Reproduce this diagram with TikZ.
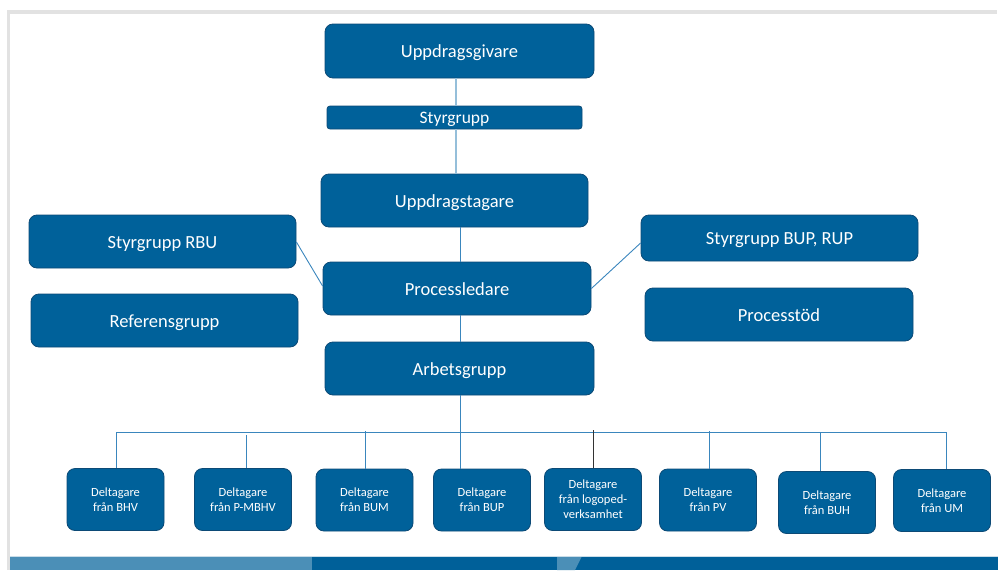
\documentclass[tikz,border=0pt]{standalone}
\usepackage{fontspec}
\usetikzlibrary{calc}
\setmainfont{Carlito}
\definecolor{boxblue}{HTML}{00619A}
\definecolor{boxedge}{HTML}{0C4A76}
\definecolor{linkblue}{HTML}{3A86BD}
\definecolor{linklight}{HTML}{95BFDA}
\definecolor{bandlight}{HTML}{4B8FB7}
\definecolor{banddark}{HTML}{006099}
\definecolor{framegray}{HTML}{E2E2E2}
\begin{document}
\begin{tikzpicture}[x=1pt,y=-1pt,
  bigbox/.style={draw=boxedge, fill=boxblue, line width=0.8pt, rounded corners=8pt,
    text=white, inner sep=0pt, font=\fontsize{18.5}{22}\selectfont,
    text height=13pt, text depth=0pt},
  smallbox/.style={draw=boxedge, fill=boxblue, line width=0.8pt, rounded corners=8pt,
    text=white, inner sep=0pt, align=center, minimum width=97pt, minimum height=62pt,
    font=\fontsize{12.5}{15}\selectfont},
  link/.style={draw=linkblue, line width=0.9pt},
  linklt/.style={draw=linklight, line width=1.2pt}]
\useasboundingbox (0,0) rectangle (998,570);
% frame
\fill[framegray] (7,10) rectangle (997,14);
\fill[framegray] (7,10) rectangle (10,570);
% bottom band
\fill[bandlight] (10,556) rectangle (312,570);
\fill[banddark] (312,556) rectangle (998,570);
\fill[bandlight] (557,556) -- (582,556) -- (575,570) -- (557,570) -- cycle;
\draw[white!70!bandlight, line width=0.6pt] (10,556) -- (998,556);

% main boxes
\node[bigbox, minimum width=269pt, minimum height=54pt] (ugivare) at (459.5,51) {Uppdragsgivare};
\node[bigbox, rounded corners=3pt, minimum width=255pt, minimum height=23pt,
  font=\fontsize{17.5}{20}\selectfont, text height=12.5pt] (styr) at (454.5,117.5) {Styrgrupp};
\node[bigbox, minimum width=267pt, minimum height=53pt] (utagare) at (454.5,200.5) {Uppdragstagare};
\node[bigbox, minimum width=268pt, minimum height=53pt] (pledare) at (457,288.5) {Processledare};
\node[bigbox, minimum width=269pt, minimum height=53pt] (arbets) at (459.5,368.5) {Arbetsgrupp};
\node[bigbox, minimum width=267pt, minimum height=53pt] (rbu) at (162.5,241.5) {Styrgrupp RBU};
\node[bigbox, minimum width=267pt, minimum height=53pt] (ref) at (164.5,320.5) {Referensgrupp};
\node[bigbox, minimum width=277pt, minimum height=46pt] (bup) at (779.5,238) {Styrgrupp BUP, RUP};
\node[bigbox, minimum width=268pt, minimum height=53pt] (stod) at (779,314.5) {Processtöd};

% bottom boxes
\node[smallbox] (d1) at (115.5,499.5) {Deltagare\\från BHV};
\node[smallbox] (d2) at (243,499.5) {Deltagare\\från P-MBHV};
\node[smallbox] (d3) at (364.5,500) {Deltagare\\från BUM};
\node[smallbox] (d4) at (482,500) {Deltagare\\från BUP};
\node[smallbox] (d5) at (593,499.5) {Deltagare\\från logoped-\\verksamhet};
\node[smallbox] (d6) at (708,500) {Deltagare\\från PV};
\node[smallbox] (d7) at (827,502.5) {Deltagare\\från BUH};
\node[smallbox] (d8) at (942,500.5) {Deltagare\\från UM};

% spine guide coordinates
\coordinate (xa) at (456,0);
\coordinate (xb) at (460,0);
\draw[linklt] (ugivare.south -| xa) -- (styr.north -| xa);
\draw[linklt] (styr.south -| xa) -- (utagare.north -| xa);
\draw[link] (utagare.south -| xb) -- (pledare.north -| xb);
\draw[link] (pledare.south -| xb) -- (arbets.north -| xb);
\coordinate (hub) at (460,432);
\coordinate (hl) at (116,432);
\coordinate (hr) at (946,432);
\draw[link] (arbets.south -| hub) -- (hub);
\draw[link] (hl) -- (hr);
% drops
\coordinate (t2) at (246,435);
\coordinate (t3) at (365,431);
\coordinate (t5) at (593,430);
\coordinate (t6) at (709,431);
\coordinate (t7) at (820,432);
\draw[link] (hl) -- (d1.north -| hl);
\draw[link] (t2) -- (d2.north -| t2);
\draw[link] (t3) -- (d3.north -| t3);
\draw[link] (hub) -- (d4.north -| hub);
\draw[draw=black!80, line width=0.8pt] (t5) -- (d5.north);
\draw[link] (t6) -- (d6.north -| t6);
\draw[link] (t7) -- (d7.north -| t7);
\draw[link] (hr) -- (d8.north -| hr);
% diagonals
\draw[link] ($(rbu.east)+(0,0.5)$) -- ($(pledare.west)+(0,-2.5)$);
\draw[link] (pledare.east) -- ($(bup.west)+(0,5)$);
\end{tikzpicture}
\end{document}
